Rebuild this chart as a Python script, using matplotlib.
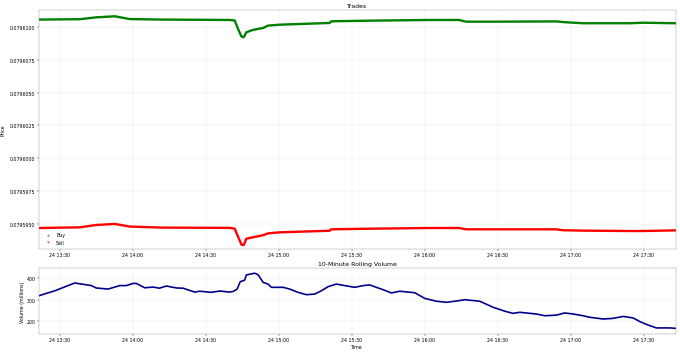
import matplotlib
matplotlib.use('Agg')
import matplotlib.pyplot as plt
import matplotlib.dates as mdates
from matplotlib.ticker import MultipleLocator, FormatStrFormatter
import pandas as pd

base = pd.Timestamp('2024-01-24 13:30:00')

# buy side (upper), minutes from 13:30 and price
buy_min = [-8.6, 8.2, 15.0, 22.6, 28.8, 42.3, 69.9, 71.9, 73.3, 74.7, 75.6, 76.7,
           79.4, 83.6, 85.6, 90.4, 110.9, 111.6, 128.8, 152.0, 164.0, 167.0,
           179.5, 204.0, 206.8, 215.0, 234.0, 239.7, 253.2]
buy_px = [0.07961059, 0.07961062, 0.07961076, 0.07961084, 0.07961063, 0.07961059,
          0.07961056, 0.07961052, 0.07960987, 0.07960929, 0.07960924, 0.07960962,
          0.07960980, 0.07960995, 0.07961013, 0.07961020, 0.07961033, 0.07961046,
          0.07961051, 0.07961056, 0.07961056, 0.07961043, 0.07961043, 0.07961045,
          0.07961040, 0.07961031, 0.07961031, 0.07961035, 0.07961031]

# sell side (lower)
sell_min = [-8.6, 8.2, 15.0, 22.6, 28.8, 42.3, 69.9, 71.9, 73.3, 74.7, 75.6, 76.7,
            79.4, 83.6, 85.6, 90.4, 110.9, 111.6, 128.8, 152.0, 164.0, 167.0,
            179.5, 204.0, 206.8, 215.0, 234.0, 239.7, 253.2]
sell_px = [0.07959467, 0.07959472, 0.07959490, 0.07959498, 0.07959478, 0.07959470,
           0.07959468, 0.07959462, 0.07959400, 0.07959340, 0.07959337, 0.07959385,
           0.07959396, 0.07959412, 0.07959426, 0.07959434, 0.07959446, 0.07959457,
           0.07959462, 0.07959467, 0.07959467, 0.07959457, 0.07959457, 0.07959457,
           0.07959450, 0.07959447, 0.07959444, 0.07959444, 0.07959449]

# 10-minute rolling volume (millions)
vol_min = [-8.6, -5.5, -2.0, 2.75, 6.2, 9.6, 13.0, 15.0, 19.9, 24.7, 27.4, 30.1,
           31.5, 34.9, 38.4, 41.0, 43.8, 48.0, 50.7, 55.5, 57.5, 62.3, 65.8, 69.9,
           71.5, 72.9, 74.2, 76.0, 76.7, 80.1, 81.5, 83.6, 85.6, 87.0, 91.8, 94.5,
           97.9, 101.4, 104.8, 107.5, 110.3, 113.7, 117.1, 121.2, 124.7, 127.4,
           130.1, 132.9, 136.3, 139.7, 145.9, 150.0, 154.8, 158.9, 163.7, 166.4,
           172.6, 178.1, 182.9, 186.3, 189.0, 195.9, 199.3, 204.1, 207.5, 211.0,
           215.1, 217.8, 223.3, 227.4, 231.5, 235.6, 238.4, 241.8, 245.2, 250.7,
           253.2]
vol = [318, 329, 341, 362, 377, 371, 365, 354, 349, 365, 365, 375,
       375, 355, 358, 353, 363, 354, 353, 335, 339, 334, 340, 335,
       339, 349, 383, 390, 414, 422, 415, 380, 372, 357, 357, 349,
       334, 323, 326, 341, 360, 372, 365, 357, 365, 368,
       357, 346, 331, 339, 332, 306, 293, 288, 295, 300,
       293, 265, 247, 237, 242, 234, 226, 229, 239, 234,
       226, 219, 211, 214, 223, 216, 199, 183, 170, 170,
       168]


def to_time(mins):
    return base + pd.to_timedelta(mins, unit='m')


t_buy = to_time(buy_min)
t_sell = to_time(sell_min)
t_vol = to_time(vol_min)

plt.rcParams['font.size'] = 10
plt.rcParams['axes.titlesize'] = 13

fig = plt.figure(figsize=(20, 10.38), dpi=34)
ax1 = fig.add_axes([0.057, 0.292, 0.937, 0.677])
ax2 = fig.add_axes([0.057, 0.051, 0.937, 0.187])

ax1.plot(t_buy, buy_px, color='green', lw=5)
ax1.plot(t_sell, sell_px, color='red', lw=5)
ax1.scatter([], [], marker='^', color='green', alpha=0.5, s=20, label='Buy')
ax1.scatter([], [], marker='v', color='red', alpha=0.5, s=20, label='Sell')
ax1.set_title('Trades')
ax1.set_ylabel('Price')
ax1.yaxis.set_label_coords(-0.052, 0.5)
ax1.legend(loc='lower left', frameon=False)
ax1.yaxis.set_major_locator(MultipleLocator(2.5e-6))
ax1.yaxis.set_major_formatter(FormatStrFormatter('%.7f'))
ax1.set_ylim(0.07959307, 0.07961132)
ax1.grid(True, alpha=0.3)

ax2.plot(t_vol, vol, color='darkblue', lw=3.5)
ax2.set_title('10-Minute Rolling Volume')
ax2.set_ylabel('Volume (millions)')
ax2.set_xlabel('Time')
ax2.set_ylim(142, 446)
ax2.yaxis.set_major_locator(MultipleLocator(100))
ax2.grid(True, alpha=0.3)

for ax in (ax1, ax2):
    ax.set_xlim(t_vol[0], t_vol[-1])
    ax.xaxis.set_major_locator(mdates.MinuteLocator(byminute=[0, 30]))
    ax.xaxis.set_major_formatter(mdates.DateFormatter('%d %H:%M'))
    for s in ax.spines.values():
        s.set_color('#888888')

fig.savefig('out.png', dpi=34)
